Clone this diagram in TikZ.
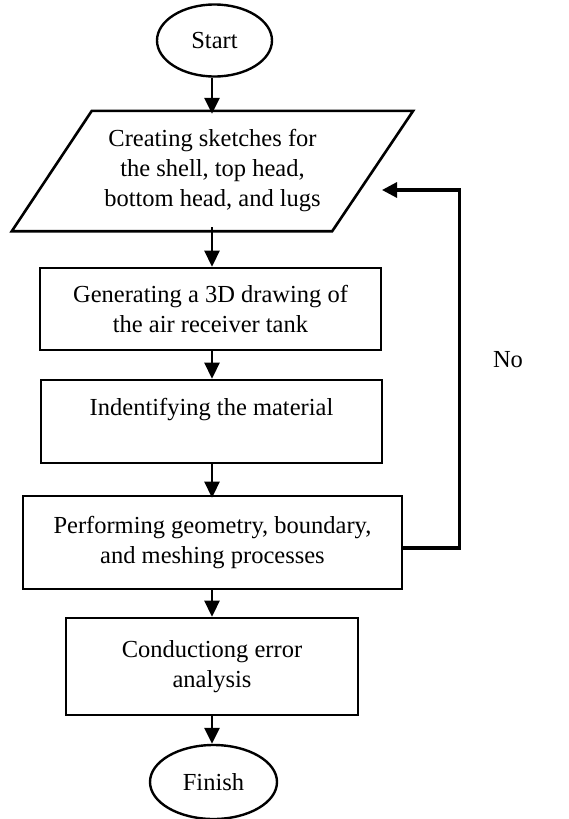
\documentclass[tikz,border=0pt]{standalone}
\usepackage{fontspec}
\setmainfont{Liberation Serif}
\usetikzlibrary{arrows.meta,shapes.geometric}
\begin{document}
\begin{tikzpicture}[x=1pt,y=-1pt,
  every node/.style={font=\fontsize{24.5}{30}\selectfont, align=center, inner sep=0pt},
  box/.style={draw, line width=2.6pt, rectangle},
  term/.style={draw, line width=2.4pt, ellipse},
  arr/.style={line width=2.6pt, -{Triangle[width=15pt,length=16pt]}},
  fbline/.style={line width=3.2pt, -{Triangle[width=15pt,length=15pt]}}
]
\useasboundingbox (0,0) rectangle (569,819);
\coordinate (ax) at (212,0);
\node[term, minimum width=115pt, minimum height=72pt] (start) at (214.5,40.5) {Start};
\node[minimum width=401pt, minimum height=120pt] (p) at (212.5,171) {Creating sketches for\\the shell, top head,\\bottom head, and lugs};
\draw[line width=2.6pt, line join=miter] (p.south west) -- ([xshift=-81pt]p.south east) -- (p.north east) -- ([xshift=80pt]p.north west) -- cycle;
\node[box, minimum width=341pt, minimum height=82pt] (b1) at (210.5,309) {Generating a 3D drawing of\\the air receiver tank};
\node[box, minimum width=341pt, minimum height=83pt] (b2) at (211.5,421.5) {Indentifying the material\\\mbox{}};
\node[box, minimum width=379pt, minimum height=93pt] (b3) at (212.5,542.5) {Performing geometry, boundary,\\and meshing processes};
\node[box, minimum width=292pt, minimum height=97pt] (b4) at (212,666.5) {Conductiong error\\analysis};
\node[term, minimum width=127pt, minimum height=74pt] (fin) at (213.5,782) {Finish};
\node (no) at (508,360) {No};
\coordinate (fb) at (382,190);
\draw[arr] (start.south -| ax) -- ([yshift=-3pt]p.north -| ax);
\draw[arr] ([yshift=4pt]p.south -| ax) -- (b1.north -| ax);
\draw[arr] (b1.south -| ax) -- (b2.north -| ax);
\draw[arr] (b2.south -| ax) -- ([yshift=-3pt]b3.north -| ax);
\draw[arr] (b3.south -| ax) -- (b4.north -| ax);
\draw[arr] (b4.south -| ax) -- (fin.north -| ax);
\draw[fbline] ([yshift=-5.5pt]b3.east) -- ++(56pt,0) |- (fb);
\end{tikzpicture}
\end{document}
